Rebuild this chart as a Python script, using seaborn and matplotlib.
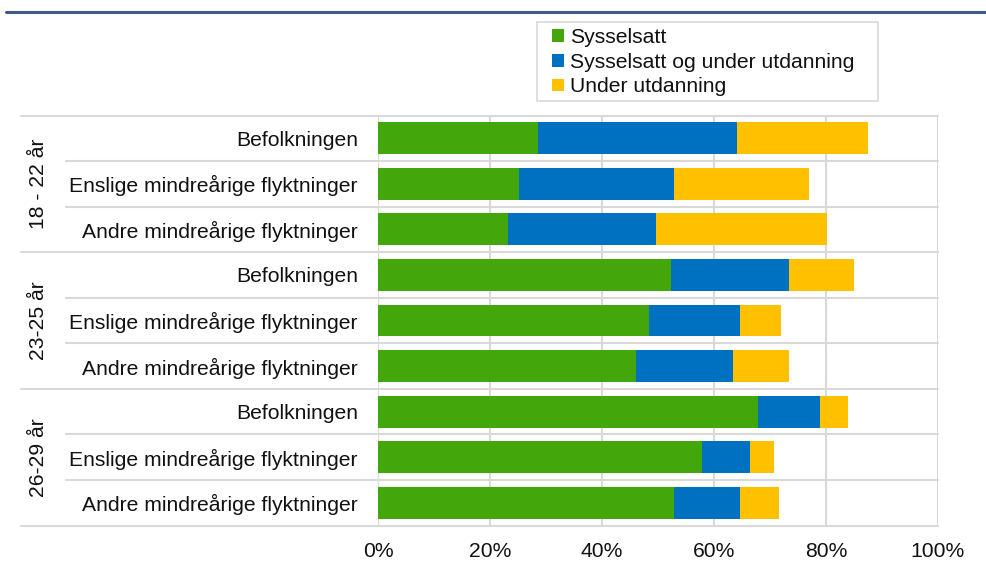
import matplotlib
matplotlib.use("Agg")
import matplotlib.pyplot as plt
from matplotlib.lines import Line2D
from matplotlib.patches import Patch, Rectangle
import seaborn as sns
import pandas as pd
import numpy as np

# --- data (percent of each group) ---
groups = ["18 - 22 år", "23-25 år", "26-29 år"]
rows = ["Befolkningen", "Enslige mindreårige flyktninger", "Andre mindreårige flyktninger"]
series = ["Sysselsatt", "Sysselsatt og under utdanning", "Under utdanning"]

sysselsatt = [28.6, 25.2, 23.2, 52.3, 48.4, 46.1, 67.9, 57.8, 52.9]
sysselsatt_utd = [35.5, 27.7, 26.4, 21.1, 16.2, 17.3, 11.0, 8.7, 11.8]
under_utd = [23.4, 24.1, 30.6, 11.6, 7.4, 10.0, 5.1, 4.3, 6.9]
xticks = [0, 20, 40, 60, 80, 100]

COLORS = ["#43A70B", "#0070C0", "#FFC000"]
GRID = "#d9d9d9"
TEXT = "#111111"
FS = 15.2

sns.set_style("white")
plt.rcParams["font.family"] = ["Liberation Sans", "DejaVu Sans"]

labels = [r for g in groups for r in rows]
keys = [str(i) for i in range(len(labels))]
df = pd.DataFrame({
    "key": keys,
    "s1": sysselsatt,
    "s2": np.add(sysselsatt, sysselsatt_utd),
    "s3": np.add(np.add(sysselsatt, sysselsatt_utd), under_utd),
})

W, H = 987, 566
fig = plt.figure(figsize=(W / 100, H / 100), dpi=100)
ax = fig.add_axes([378 / W, 1 - 525.5 / H, 560 / W, 410 / H])

# stacked bars: draw cumulative totals back to front
for col, color in zip(["s3", "s2", "s1"], COLORS[::-1]):
    sns.barplot(data=df, x=col, y="key", orient="h", color=color, width=0.7,
                saturation=1, linewidth=0, ax=ax, zorder=3)

ax.set_xlim(0, 100)
ax.set_ylim(len(labels) - 0.5, -0.5)
ax.set_xlabel("")
ax.set_ylabel("")
ax.set_xticks(xticks)
ax.set_xticklabels([f"{t}%" for t in xticks], fontsize=FS, color=TEXT)
ax.set_yticks(range(len(labels)))
ax.set_yticklabels(labels, fontsize=FS, color=TEXT)
ax.tick_params(axis="y", length=0, pad=14.4)
ax.tick_params(axis="x", length=4.7, width=1.5, color=GRID, pad=7.5)
for s in ax.spines.values():
    s.set_visible(False)
ax.grid(axis="x", color=GRID, lw=1.5, zorder=0)

# row separators, extended into the label area
ytr = ax.get_yaxis_transform()
for i in range(len(labels) + 1):
    y = i - 0.5
    x0 = -0.6375 if i % 3 == 0 else -0.557
    ax.plot([x0, 1], [y, y], color=GRID, lw=1.5, transform=ytr, clip_on=False, zorder=1)

# group labels
for gi, g in enumerate(groups):
    ax.text(-0.606, gi * 3 + 1, g, transform=ytr, rotation=90, ha="center", va="center",
            fontsize=FS, color=TEXT)

# legend (frame drawn separately so the entries can sit inset)
fig.add_artist(Rectangle((537 / W, 1 - 101 / H), 341 / W, 79 / H, transform=fig.transFigure,
                         facecolor="white", edgecolor=GRID, lw=1.2))
handles = [Patch(facecolor=c, edgecolor="none") for c in COLORS]
leg = fig.legend(handles, series, loc="upper left", bbox_to_anchor=(552 / W, 1 - 28 / H),
                 fontsize=FS, frameon=False, handlelength=0.55, handleheight=0.55,
                 handletextpad=0.3, labelspacing=0.27, borderpad=0, borderaxespad=0)
for t in leg.get_texts():
    t.set_color(TEXT)

# header rule
fig.add_artist(Line2D([6 / W, 1], [1 - 12.3 / H] * 2, color="#3F5A8A", lw=2.2))

fig.savefig("out.png", dpi=100)
